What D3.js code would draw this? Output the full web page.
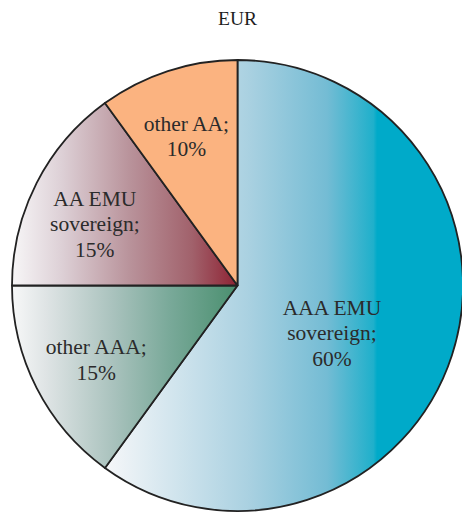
<!DOCTYPE html>
<meta charset="utf-8">
<style type="text/css">
body { margin: 0; background: #fff; }
</style>
<body>
<script src="https://cdn.jsdelivr.net/npm/d3@7"></script>
<script type="text/javascript">

// data
var categories = ["AAA EMU sovereign", "other AAA", "AA EMU sovereign", "other AA"];
var shares = [60, 15, 15, 10];
var labelLines = [
  ["AAA EMU", "sovereign;", "60%"],
  ["other AAA;", "15%"],
  ["AA EMU", "sovereign;", "15%"],
  ["other AA;", "10%"]
];

var width = 462, height = 512,
    cx = 237.5, cy = 285.5, radius = 225.5;

var serif = "'Liberation Serif', 'Times New Roman', Times, 'DejaVu Serif', serif";

// gradient stops per slice (left -> right)
var gradients = [
  [["0%", "#f6f7f9"], ["40%", "#aad1e1"], ["62%", "#74bcd4"], ["75%", "#1fb0cb"], ["76%", "#00aac9"], ["100%", "#00aac9"]],
  [["0%", "#f7f8f8"], ["15%", "#dfe4e5"], ["45%", "#a9c2bd"], ["70%", "#79a999"], ["100%", "#4a8f6f"]],
  [["0%", "#f7f6f7"], ["22%", "#ddd0d6"], ["52%", "#b9939b"], ["80%", "#a1616b"], ["100%", "#8e2233"]],
  [["0%", "#fbb380"], ["100%", "#fbb380"]]
];

// label placement: radius from center and angle shift (degrees)
var labelRadius = [106, 160, 155, 157];
var labelShift = [9, -1, -4, -1];

var svg = d3.select("body").append("svg")
  .attr("width", width)
  .attr("height", height);

var defs = svg.append("defs");
gradients.forEach(function(stops, i) {
  var g = defs.append("linearGradient")
    .attr("id", "grad" + i)
    .attr("x1", "0").attr("y1", "0")
    .attr("x2", "1").attr("y2", "0");
  stops.forEach(function(s) {
    g.append("stop").attr("offset", s[0]).attr("stop-color", s[1]);
  });
});

svg.append("text")
  .attr("x", cx)
  .attr("y", 25)
  .attr("text-anchor", "middle")
  .attr("font-family", serif)
  .attr("font-size", "19.5px")
  .attr("fill", "#1e1e1e")
  .text("EUR");

var pie = d3.pie().sort(null).value(function(d) { return d; });
var arcs = pie(shares);

var arc = d3.arc().innerRadius(0).outerRadius(radius);

var g = svg.append("g")
  .attr("transform", "translate(" + cx + "," + cy + ")");

g.selectAll("path.slice")
  .data(arcs)
  .enter()
  .append("path")
  .attr("class", "slice")
  .attr("d", arc)
  .attr("fill", function(d, i) { return "url(#grad" + i + ")"; })
  .attr("stroke", "#222")
  .attr("stroke-width", 1.8)
  .attr("stroke-linejoin", "round");

var lineH = 25.5;

var labels = g.selectAll("g.label")
  .data(arcs)
  .enter()
  .append("g")
  .attr("class", "label")
  .attr("transform", function(d, i) {
    var a = (d.startAngle + d.endAngle) / 2 + labelShift[i] * Math.PI / 180;
    var p = d3.pointRadial(a, labelRadius[i]);
    return "translate(" + p[0] + "," + p[1] + ")";
  });

labels.each(function(d, i) {
  var lines = labelLines[i];
  var n = lines.length;
  d3.select(this).selectAll("text")
    .data(lines)
    .enter()
    .append("text")
    .attr("text-anchor", "middle")
    .attr("y", function(t, j) { return (j - (n - 1) / 2) * lineH + 6.5; })
    .attr("font-family", serif)
    .attr("font-size", "21.5px")
    .attr("fill", "#2b2b2b")
    .text(function(t) { return t; });
});

</script>
</body>
